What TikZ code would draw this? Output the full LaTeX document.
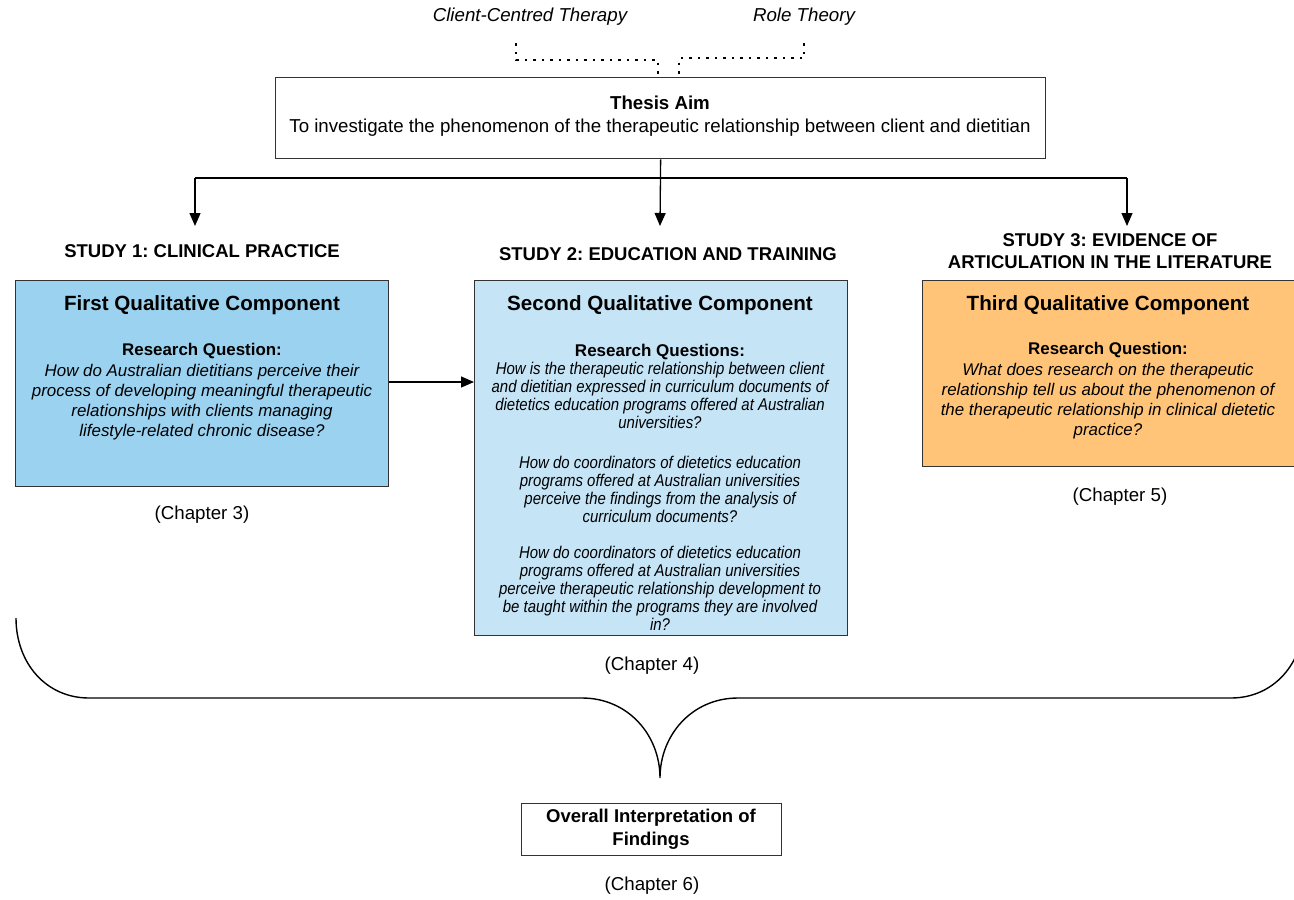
\documentclass[tikz,border=0pt]{standalone}
\usepackage{fontspec}
\setmainfont{Liberation Sans}
\newfontfamily\narrowfont[FakeStretch=0.88]{Liberation Sans}
\usetikzlibrary{arrows.meta}
\frenchspacing
\definecolor{firstblue}{HTML}{9BD2F0}
\definecolor{secondblue}{HTML}{C5E4F6}
\definecolor{thirdorange}{HTML}{FFC478}
\definecolor{edge}{HTML}{333333}
\newcommand{\fsz}[2]{\fontsize{#1}{#2}\selectfont}
\tikzset{
  panel/.style={draw=edge, line width=1.3pt, anchor=north west, inner sep=0pt},
  txt/.style={inner sep=0pt, align=center, text=black},
  link/.style={draw=black, line width=1.3pt},
  arr/.style={link, -{Triangle[length=13pt,width=11pt]}},
  dotline/.style={draw=black, line width=1.2pt, dash pattern=on 2.5pt off 6pt},
  brace/.style={draw=black, line width=1.4pt},
  plain/.style={txt, font=\fsz{18.7}{22}},
  heading/.style={txt, font=\fsz{18.5}{22}\bfseries},
  boxtitle/.style={txt, font=\fsz{20.6}{24}\bfseries},
  question/.style={txt, font=\fsz{16.9}{20.3}\itshape},
  narrowq/.style={txt, font=\fsz{17}{18}\narrowfont\itshape},
}
\begin{document}
\begin{tikzpicture}[x=1pt,y=-1pt]
\useasboundingbox (0,0) rectangle (1294,900);

% theory labels and their dotted leads into the aim box
\node[plain, font=\fsz{18.7}{22}\itshape] (cct) at (530,17) {Client-Centred Therapy};
\node[plain, font=\fsz{18.7}{22}\itshape] (role) at (804,17) {Role Theory};

% thesis aim
\node[panel, minimum width=770pt, minimum height=81pt, fill=white] (thesis) at (275,77) {};
\node[plain, font=\fsz{18.7}{22}\bfseries] (aimtitle) at (660,103) {Thesis Aim};
\node[plain] (aimtext) at (660,128) {To investigate the phenomenon of the therapeutic relationship between client and dietitian};

\coordinate (cctA) at (516,43);
\coordinate (cctB) at (658,60);
\coordinate (cctC) at (658,77);
\coordinate (roleA) at (804,43);
\coordinate (roleB) at (679,58);
\coordinate (roleC) at (679,77);
\draw[dotline] (cctA) |- (cctB) -- (cctC);
\draw[dotline] (roleA) |- (roleB) -- (roleC);

% study headings
\node[heading] (s1) at (202,251) {STUDY 1: CLINICAL PRACTICE};
\node[heading] (s2) at (668,254) {STUDY 2: EDUCATION AND TRAINING};
\node[heading] (s3) at (1110,251) {STUDY 3: EVIDENCE OF\\ARTICULATION IN THE LITERATURE};

% branching arrows from the aim
\coordinate (jL) at (195,178);
\coordinate (jR) at (1127,178);
\coordinate (t1) at (195,226);
\coordinate (t2) at (660,226);
\coordinate (t3) at (1127,226);
\draw[link] (jL) -- (jR);
\draw[arr] (thesis.south) -- (t2);
\draw[arr] (jL) -- (t1);
\draw[arr] (jR) -- (t3);

% component boxes
\node[panel, minimum width=373pt, minimum height=206pt, fill=firstblue] (b1) at (15,280) {};
\node[panel, minimum width=373pt, minimum height=355pt, fill=secondblue] (b2) at (474,280) {};
\node[panel, minimum width=373pt, minimum height=186pt, fill=thirdorange] (b3) at (922,280) {};

\node[boxtitle] (b1title) at (202,305) {First Qualitative Component};
\node[question] (b1q) at (202,392) {\textbf{\upshape Research Question:}\\
  How do Australian dietitians perceive their\\
  process of developing meaningful therapeutic\\
  relationships with clients managing\\
  lifestyle-related chronic disease?};

\node[boxtitle] (b2title) at (660,305) {Second Qualitative Component};
\node[txt, font=\fsz{17}{18}\bfseries] (b2head) at (660,352) {Research Questions:};
\node[narrowq] (b2q1) at (660,395) {How is the therapeutic relationship between client\\
  and dietitian expressed in curriculum documents of\\
  dietetics education programs offered at Australian\\
  universities?};
\node[narrowq] (b2q2) at (660,489) {How do coordinators of dietetics education\\
  programs offered at Australian universities\\
  perceive the findings from the analysis of\\
  curriculum documents?};
\node[narrowq] (b2q3) at (660,588) {How do coordinators of dietetics education\\
  programs offered at Australian universities\\
  perceive therapeutic relationship development to\\
  be taught within the programs they are involved\\
  in?};

\node[boxtitle] (b3title) at (1108,305) {Third Qualitative Component};
\node[question] (b3q) at (1108,391) {\textbf{\upshape Research Question:}\\
  What does research on the therapeutic\\
  relationship tell us about the phenomenon of\\
  the therapeutic relationship in clinical dietetic\\
  practice?};

\draw[arr] (b1.east |- 0,382) -- (b2.west |- 0,382);

% chapter labels
\node[plain] (ch3) at (202,515) {(Chapter 3)};
\node[plain] (ch4) at (652,666) {(Chapter 4)};
\node[plain] (ch5) at (1120,497) {(Chapter 5)};

% gathering brace
\draw[brace] (16,618) .. controls (16,663) and (46,698) .. (89,698) -- (582,698)
  .. controls (628,698) and (660,735) .. (660,778)
  .. controls (660,735) and (692,698) .. (738,698) -- (1231,698)
  .. controls (1274,698) and (1304,663) .. (1304,618);

% overall interpretation
\node[panel, minimum width=260pt, minimum height=52pt, fill=white] (overall) at (521,803) {};
\node[heading, font=\fsz{18.5}{23}\bfseries] (overalltext) at (651,829) {Overall Interpretation of\\Findings};
\node[plain] (ch6) at (652,886) {(Chapter 6)};
\end{tikzpicture}
\end{document}
